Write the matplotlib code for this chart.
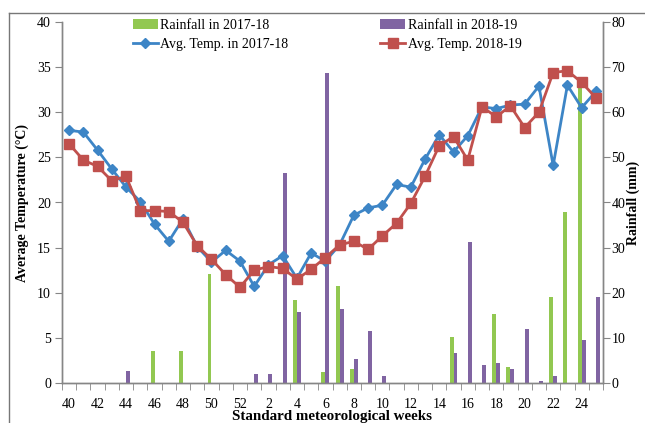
import numpy as np
import matplotlib.pyplot as plt
from matplotlib.lines import Line2D

# standard meteorological weeks, Oct 2017/18 -> Jun
weeks = [40, 41, 42, 43, 44, 45, 46, 47, 48, 49, 50, 51, 52,
         1, 2, 3, 4, 5, 6, 7, 8, 9, 10, 11, 12, 13, 14, 15, 16,
         17, 18, 19, 20, 21, 22, 23, 24, 25]

temp_2017 = [28.0, 27.8, 25.8, 23.7, 21.7, 20.1, 17.6, 15.7, 18.2, 15.1,
             13.4, 14.7, 13.5, 10.7, 13.1, 14.1, 11.6, 14.4, 13.5, 15.3,
             18.6, 19.4, 19.7, 22.0, 21.7, 24.8, 27.5, 25.6, 27.4, 30.6,
             30.4, 30.8, 30.9, 32.9, 24.1, 33.0, 30.5, 32.3]

temp_2018 = [26.5, 24.7, 24.0, 22.4, 22.9, 19.1, 19.1, 19.0, 17.8, 15.2,
             13.7, 12.0, 10.6, 12.5, 12.9, 12.7, 11.5, 12.6, 13.9, 15.3,
             15.7, 14.8, 16.3, 17.7, 19.9, 22.9, 26.3, 27.3, 24.7, 30.6,
             29.5, 30.7, 28.3, 30.0, 34.4, 34.6, 33.3, 31.6]

rain_2017 = [0, 0, 0, 0, 0, 0, 7.0, 0, 7.0, 0,
             24.1, 0, 0, 0, 0, 0, 18.5, 0, 2.5, 21.5,
             3.2, 0, 0, 0, 0, 0, 0, 10.1, 0, 0,
             15.4, 3.6, 0, 0, 19.0, 37.8, 66.5, 0]

rain_2018 = [0, 0, 0, 0, 2.7, 0, 0, 0, 0, 0,
             0, 0, 0, 2.1, 2.1, 46.5, 15.8, 0, 68.6, 16.5,
             5.4, 11.5, 1.6, 0, 0, 0, 0, 6.6, 31.3, 3.9,
             4.5, 3.2, 11.9, 0.5, 1.5, 0, 9.5, 19.0]

plt.rcParams['font.family'] = ['Liberation Serif', 'DejaVu Serif']

x = np.arange(len(weeks))
grey = '#868686'

fig = plt.figure(figsize=(6.45, 4.23), dpi=100)
ax = fig.add_axes([62 / 645, 40 / 423, 541 / 645, 361 / 423])
ax2 = ax.twinx()

# bars on the rainfall axis
bw = 0.28
ax2.bar(x - bw / 2, rain_2017, bw, color='#92C851', label='Rainfall in 2017-18')
ax2.bar(x + bw / 2, rain_2018, bw, color='#8064A2', label='Rainfall in 2018-19')
ax2.set_ylim(0, 80)
ax2.set_yticks(range(0, 81, 10))

# temperature lines drawn above the bars
ax.set_zorder(ax2.get_zorder() + 1)
ax.patch.set_visible(False)
ax.plot(x, temp_2017, color='#3D85C6', lw=2, marker='D', ms=5,
        label='Avg. Temp. in 2017-18')
ax.plot(x, temp_2018, color='#C0504D', lw=2, marker='s', ms=7.5,
        label='Avg. Temp. 2018-19')
ax.set_ylim(0, 40)
ax.set_yticks(range(0, 41, 5))
ax.set_xlim(-0.5, len(weeks) - 0.5)

ax.set_xticks(x[::2])
ax.set_xticklabels([str(w) for w in weeks[::2]])
ax.set_xticks(np.arange(-0.5, len(weeks)), minor=True)
ax.tick_params(axis='x', which='major', length=0, pad=11, labelsize=10)
ax.tick_params(axis='x', which='minor', length=5, color=grey, direction='out')
ax.tick_params(axis='y', length=5, color=grey, labelsize=10, pad=3)
ax2.tick_params(axis='y', length=5, color=grey, labelsize=10, pad=1)

for a in (ax, ax2):
    a.spines['top'].set_visible(False)
    for s in ('left', 'right', 'bottom'):
        a.spines[s].set_color(grey)
        a.spines[s].set_linewidth(1)

ax.set_ylabel('Average Temperature (°C)', fontsize=10, fontweight='bold', labelpad=6)
ax2.set_ylabel('Rainfall (mm)', fontsize=10, fontweight='bold', labelpad=1)
fig.text(332 / 645, 1 - 420 / 423, 'Standard meteorological weeks', fontsize=10.8,
         fontweight='bold', ha='center', va='baseline')

# legend in two columns like the original
h1, l1 = ax2.get_legend_handles_labels()
h2, l2 = ax.get_legend_handles_labels()
handles = [h1[0], h2[0], h1[1], h2[1]]
labels = [l1[0], l2[0], l1[1], l2[1]]
fig.legend(handles, labels, ncol=2, loc='upper left', bbox_to_anchor=(127 / 645, 1 - 13 / 423),
           frameon=False, fontsize=10, handlelength=1.8, handletextpad=0.2,
           columnspacing=6.6, labelspacing=0.45, borderaxespad=0)

# chart frame (top and left edges visible in the reference)
fig.add_artist(Line2D([9 / 645, 1], [1 - 12.7 / 423] * 2, color='#777777', lw=1))
fig.add_artist(Line2D([9 / 645] * 2, [0, 1 - 12.7 / 423], color='#777777', lw=1))

fig.savefig('out.png', dpi=100)
